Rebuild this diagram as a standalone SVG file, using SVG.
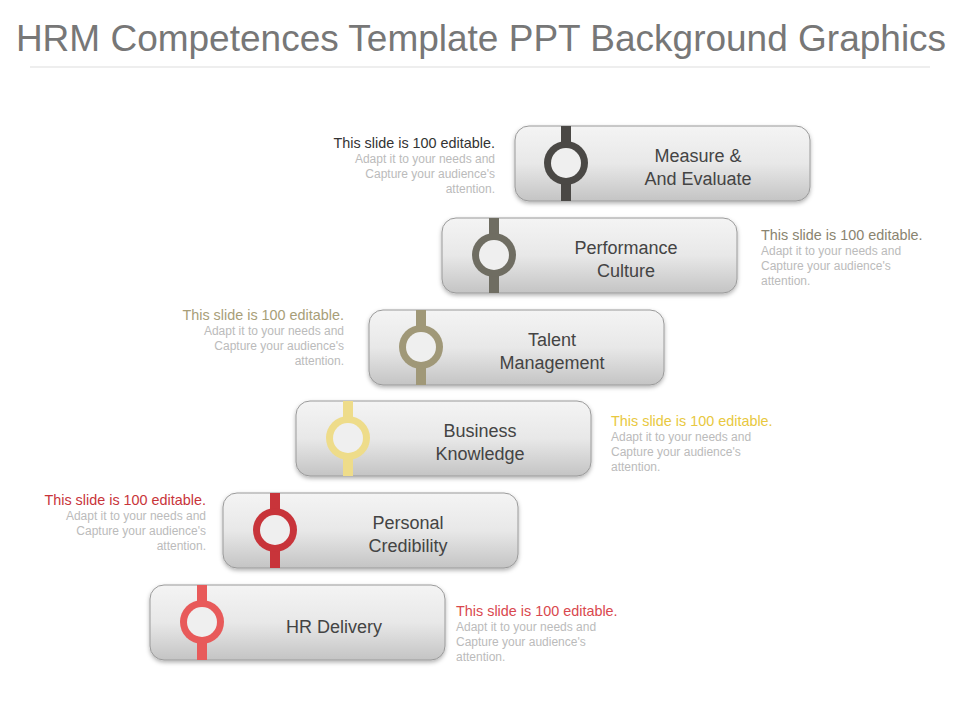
<svg xmlns="http://www.w3.org/2000/svg" width="960" height="720" viewBox="0 0 960 720">
<defs>
<linearGradient id="g" x1="0" y1="0" x2="0" y2="1"><stop offset="0" stop-color="#f4f4f4"/><stop offset="0.5" stop-color="#e8e8e8"/><stop offset="1" stop-color="#c4c4c4"/></linearGradient>
<filter id="sh" x="-10%" y="-20%" width="120%" height="150%"><feDropShadow dx="0" dy="2" stdDeviation="2" flood-opacity="0.3"/></filter>
</defs>
<style>
text{font-family:"Liberation Sans",Arial,sans-serif}
.box{fill:url(#g);stroke:#9a9a9a;stroke-width:1}
.lbl{font-size:18px;fill:#444;text-anchor:middle}
.h{font-size:14.4px}
.b{font-size:12px;fill:#bbb}
.inner{fill:#efefef}
</style>
<rect width="960" height="720" fill="#fff"/>
<text x="481" y="51" font-size="37" fill="#777" text-anchor="middle">HRM Competences Template PPT Background Graphics</text>
<line x1="30" y1="67" x2="930" y2="67" stroke="#ddd"/>
<g id="n1"><rect class="box" x="515" y="126" width="295" height="75" rx="14" filter="url(#sh)"/><rect x="561" y="126" width="10" height="75" fill="#4a4845"/><circle cx="566" cy="163" r="22" fill="#4a4845"/><circle class="inner" cx="566" cy="163" r="15"/><text class="lbl" x="698" y="162">Measure &amp;</text><text class="lbl" x="698" y="185">And Evaluate</text>
<text text-anchor="end" x="495" y="148"><tspan class="h" fill="#333">This slide is 100 editable.</tspan><tspan class="b" x="495" dy="15">Adapt it to your needs and</tspan><tspan class="b" x="495" dy="15">Capture your audience's</tspan><tspan class="b" x="495" dy="15">attention.</tspan></text></g>
<g id="n2"><rect class="box" x="442" y="218" width="295" height="75" rx="14" filter="url(#sh)"/><rect x="489" y="218" width="10" height="75" fill="#6f6d62"/><circle cx="494" cy="255" r="22" fill="#6f6d62"/><circle class="inner" cx="494" cy="255" r="15"/><text class="lbl" x="626" y="254">Performance</text><text class="lbl" x="626" y="277">Culture</text>
<text x="761" y="240"><tspan class="h" fill="#8a8470">This slide is 100 editable.</tspan><tspan class="b" x="761" dy="15">Adapt it to your needs and</tspan><tspan class="b" x="761" dy="15">Capture your audience's</tspan><tspan class="b" x="761" dy="15">attention.</tspan></text></g>
<g id="n3"><rect class="box" x="369" y="310" width="295" height="75" rx="14" filter="url(#sh)"/><rect x="416" y="310" width="10" height="75" fill="#a09878"/><circle cx="421" cy="347" r="22" fill="#a09878"/><circle class="inner" cx="421" cy="347" r="15"/><text class="lbl" x="552" y="346">Talent</text><text class="lbl" x="552" y="369">Management</text>
<text text-anchor="end" x="344" y="320"><tspan class="h" fill="#a89e78">This slide is 100 editable.</tspan><tspan class="b" x="344" dy="15">Adapt it to your needs and</tspan><tspan class="b" x="344" dy="15">Capture your audience's</tspan><tspan class="b" x="344" dy="15">attention.</tspan></text></g>
<g id="n4"><rect class="box" x="296" y="401" width="295" height="75" rx="14" filter="url(#sh)"/><rect x="343" y="401" width="10" height="75" fill="#eedc8a"/><circle cx="348" cy="438" r="22" fill="#eedc8a"/><circle class="inner" cx="348" cy="438" r="15"/><text class="lbl" x="480" y="437">Business</text><text class="lbl" x="480" y="460">Knowledge</text>
<text x="611" y="426"><tspan class="h" fill="#e8c840">This slide is 100 editable.</tspan><tspan class="b" x="611" dy="15">Adapt it to your needs and</tspan><tspan class="b" x="611" dy="15">Capture your audience's</tspan><tspan class="b" x="611" dy="15">attention.</tspan></text></g>
<g id="n5"><rect class="box" x="223" y="493" width="295" height="75" rx="14" filter="url(#sh)"/><rect x="270" y="493" width="10" height="75" fill="#c8343a"/><circle cx="275" cy="530" r="22" fill="#c8343a"/><circle class="inner" cx="275" cy="530" r="15"/><text class="lbl" x="408" y="529">Personal</text><text class="lbl" x="408" y="552">Credibility</text>
<text text-anchor="end" x="206" y="505"><tspan class="h" fill="#c8343a">This slide is 100 editable.</tspan><tspan class="b" x="206" dy="15">Adapt it to your needs and</tspan><tspan class="b" x="206" dy="15">Capture your audience's</tspan><tspan class="b" x="206" dy="15">attention.</tspan></text></g>
<g id="n6"><rect class="box" x="150" y="585" width="295" height="75" rx="14" filter="url(#sh)"/><rect x="197" y="585" width="10" height="75" fill="#e85a5a"/><circle cx="202" cy="622" r="22" fill="#e85a5a"/><circle class="inner" cx="202" cy="622" r="15"/><text class="lbl" x="334" y="633">HR Delivery</text>
<text x="456" y="616"><tspan class="h" fill="#d9484e">This slide is 100 editable.</tspan><tspan class="b" x="456" dy="15">Adapt it to your needs and</tspan><tspan class="b" x="456" dy="15">Capture your audience's</tspan><tspan class="b" x="456" dy="15">attention.</tspan></text></g>
<g id="connectors"/>
</svg>
